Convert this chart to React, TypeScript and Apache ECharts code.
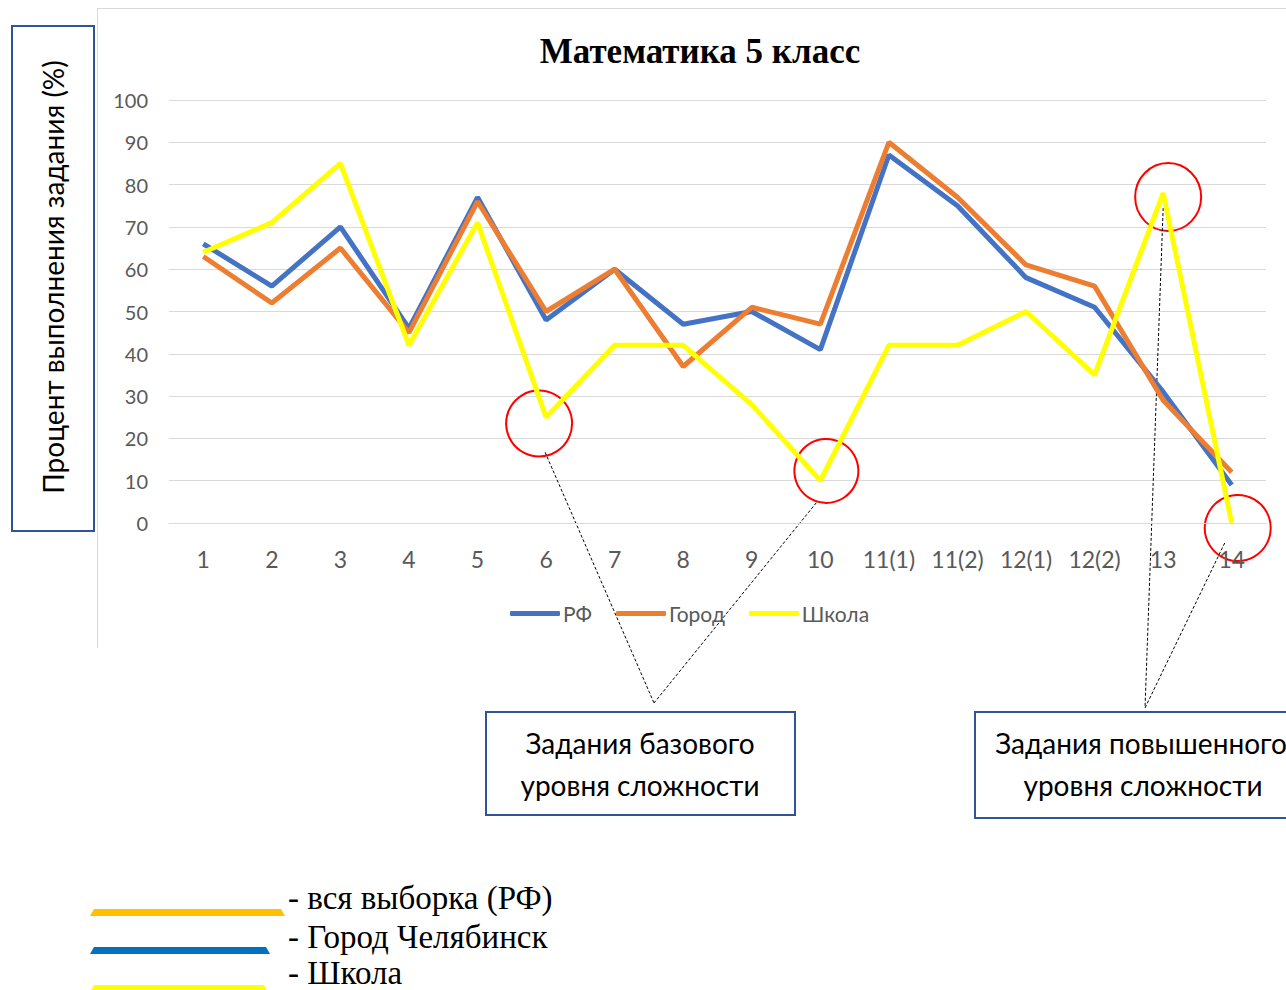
import React, { useEffect, useRef } from "react";
import * as echarts from "echarts";

const categories = ["1", "2", "3", "4", "5", "6", "7", "8", "9", "10", "11(1)", "11(2)", "12(1)", "12(2)", "13", "14"];
const rfValues = [66, 56, 70, 46, 77, 48, 60, 47, 50, 41, 87, 75, 58, 51, 31, 9];
const gorodValues = [63, 52, 65, 45, 76, 50, 60, 37, 51, 47, 90, 77, 61, 56, 29, 12];
const shkolaValues = [64, 71, 85, 42, 71, 25, 42, 42, 28, 10, 42, 42, 50, 35, 78, 0];
const seriesNames = ["РФ", "Город", "Школа"];
const yTicks = { min: 0, max: 100, interval: 10 };
const chartTitle = "Математика 5 класс";
const yAxisTitle = "Процент выполнения задания (%)";
const boxBasic = ["Задания базового", "уровня сложности"];
const boxAdvanced = ["Задания повышенного", "уровня сложности"];
const bottomLegend = ["- вся выборка (РФ)", "- Город Челябинск", "- Школа"];
// highlighted school points (category indices)
const basicMarked = [5, 9];
const advancedMarked = [14, 15];

const SANS = "Lato, 'Open Sans', sans-serif";
const SERIF = "'Liberation Serif', 'DejaVu Serif', serif";
const BOX_BLUE = "#2f5597";

export default function App() {
  const ref = useRef<HTMLDivElement>(null);
  useEffect(() => {
    document.body.style.margin = "0";
    const chart = echarts.init(ref.current!, null, { renderer: "svg" });
    const option: any = {
      animation: false,
      backgroundColor: "#ffffff",
      title: {
        text: chartTitle,
        left: 695,
        top: 29,
        textAlign: "center",
        textStyle: { fontFamily: SERIF, fontWeight: "bold", fontSize: 35, color: "#000" },
      },
      legend: {
        left: 505,
        top: 598,
        itemWidth: 50,
        itemHeight: 5,
        itemGap: 24,
        icon: "roundRect",
        textStyle: { fontFamily: SANS, fontSize: 21, color: "#595959", padding: [0, 0, 0, -2] },
        data: seriesNames,
      },
      grid: { left: 169, right: 20, top: 100, bottom: 467, containLabel: false },
      xAxis: {
        type: "category",
        data: categories,
        boundaryGap: true,
        axisLine: { show: true, lineStyle: { color: "#d9d9d9", width: 1 } },
        axisTick: { show: false },
        axisLabel: { fontFamily: SANS, fontSize: 23, color: "#595959", margin: 24, interval: 0 },
      },
      yAxis: {
        type: "value",
        min: yTicks.min,
        max: yTicks.max,
        interval: yTicks.interval,
        axisLine: { show: false },
        axisTick: { show: false },
        splitLine: { lineStyle: { color: "#d9d9d9", width: 1.2 } },
        axisLabel: { fontFamily: SANS, fontSize: 20, color: "#595959", margin: 21 },
      },
      series: [
        { name: seriesNames[0], type: "line", data: rfValues, symbol: "none", lineStyle: { width: 5, color: "#4472c4" }, itemStyle: { color: "#4472c4" } },
        { name: seriesNames[1], type: "line", data: gorodValues, symbol: "none", lineStyle: { width: 5, color: "#ed7d31" }, itemStyle: { color: "#ed7d31" } },
        { name: seriesNames[2], type: "line", data: shkolaValues, symbol: "none", lineStyle: { width: 5, color: "#ffff00" }, itemStyle: { color: "#ffff00" } },
      ],
    };
    chart.setOption(option);

    const px = (i: number) => chart.convertToPixel({ gridIndex: 0 }, [i, shkolaValues[i]]) as number[];
    const p6 = px(basicMarked[0]);
    const p10 = px(basicMarked[1]);
    const p13 = px(advancedMarked[0]);
    const p14 = px(advancedMarked[1]);
    const c1 = [p6[0] - 7, p6[1] + 5];
    const c2 = [p10[0] + 6, p10[1] - 11];
    const c3 = [p13[0] + 5, p13[1] + 4];
    const c4 = [p14[0] + 6, p14[1] + 5];
    const circleStyle = { fill: "none", stroke: "#ff0000", lineWidth: 2 };
    const dashStyle = { stroke: "#000", lineWidth: 1, lineDash: [3, 2] };
    const apex1 = [654, 703];
    const apex2 = [1145, 708];

    const graphic: any[] = [
      // chart area frame
      { type: "line", shape: { x1: 97.5, y1: 8, x2: 97.5, y2: 648 }, style: { stroke: "#d9d9d9", lineWidth: 1 } },
      { type: "line", shape: { x1: 97, y1: 8.5, x2: 1286, y2: 8.5 }, style: { stroke: "#d9d9d9", lineWidth: 1 } },
      // y axis title box
      { type: "rect", shape: { x: 12, y: 26, width: 82, height: 505 }, style: { fill: "#fff", stroke: BOX_BLUE, lineWidth: 2 } },
      {
        type: "text", x: 53, y: 277, rotation: Math.PI / 2,
        style: { text: yAxisTitle, fontFamily: SANS, fontSize: 28, fill: "#000", align: "center", verticalAlign: "middle" },
      },
      // circles
      { type: "circle", shape: { cx: c1[0], cy: c1[1], r: 33 }, style: circleStyle },
      { type: "circle", shape: { cx: c2[0], cy: c2[1], r: 32 }, style: circleStyle },
      { type: "ellipse", shape: { cx: c3[0], cy: c3[1], rx: 33, ry: 34 }, style: circleStyle },
      { type: "circle", shape: { cx: c4[0], cy: c4[1], r: 33 }, style: circleStyle },
      // dashed pointers
      { type: "line", shape: { x1: c1[0] + 6, y1: c1[1] + 30, x2: apex1[0], y2: apex1[1] }, style: dashStyle },
      { type: "line", shape: { x1: c2[0] - 10, y1: c2[1] + 33, x2: apex1[0], y2: apex1[1] }, style: dashStyle },
      { type: "line", shape: { x1: p13[0], y1: p13[1] + 15, x2: apex2[0], y2: apex2[1] }, style: dashStyle },
      { type: "line", shape: { x1: c4[0] - 13, y1: c4[1] + 15, x2: apex2[0], y2: apex2[1] }, style: dashStyle },
      // annotation boxes
      { type: "rect", shape: { x: 486, y: 712, width: 309, height: 103 }, style: { fill: "#fff", stroke: BOX_BLUE, lineWidth: 2 } },
      { type: "text", x: 640, y: 743, style: { text: boxBasic[0], fontFamily: SANS, fontSize: 28, fill: "#000", align: "center", verticalAlign: "middle" } },
      { type: "text", x: 640, y: 785, style: { text: boxBasic[1], fontFamily: SANS, fontSize: 28, fill: "#000", align: "center", verticalAlign: "middle" } },
      { type: "rect", shape: { x: 975, y: 712, width: 330, height: 106 }, style: { fill: "#fff", stroke: BOX_BLUE, lineWidth: 2 } },
      { type: "text", x: 1141, y: 743, style: { text: boxAdvanced[0], fontFamily: SANS, fontSize: 28, fill: "#000", align: "center", verticalAlign: "middle" } },
      { type: "text", x: 1143, y: 785, style: { text: boxAdvanced[1], fontFamily: SANS, fontSize: 28, fill: "#000", align: "center", verticalAlign: "middle" } },
      // bottom legend
      { type: "polygon", shape: { points: [[90, 916], [285, 916], [281, 909], [94, 909]] }, style: { fill: "#ffc000" } },
      { type: "polygon", shape: { points: [[90, 954], [270, 954], [266, 947], [94, 947]] }, style: { fill: "#0070c0" } },
      { type: "polygon", shape: { points: [[90, 992], [268, 992], [264, 985], [94, 985]] }, style: { fill: "#ffff00" } },
      { type: "text", x: 288, y: 898, style: { text: bottomLegend[0], fontFamily: SERIF, fontSize: 33, fill: "#000", align: "left", verticalAlign: "middle" } },
      { type: "text", x: 288, y: 937, style: { text: bottomLegend[1], fontFamily: SERIF, fontSize: 33, fill: "#000", align: "left", verticalAlign: "middle" } },
      { type: "text", x: 288, y: 973, style: { text: bottomLegend[2], fontFamily: SERIF, fontSize: 33, fill: "#000", align: "left", verticalAlign: "middle" } },
    ];
    chart.setOption({ graphic });
    return () => chart.dispose();
  }, []);
  return <div ref={ref} style={{ width: 1286, height: 990 }} />;
}
